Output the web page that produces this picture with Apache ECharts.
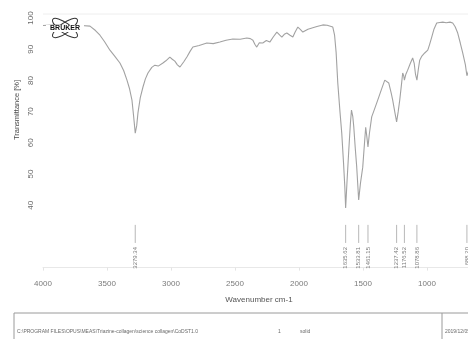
<!DOCTYPE html>
<html>
<head>
<meta charset="utf-8">
<script src="https://cdn.jsdelivr.net/npm/echarts@6/dist/echarts.min.js"></script>
<style>
  html, body { margin: 0; padding: 0; background: #fff; }
  #chart { width: 468px; height: 339px; }
</style>
</head>
<body>
<div id="chart"></div>
<script>
// IR spectrum: wavenumber (cm-1) vs transmittance (%)
const wavenumbers = [4000, 3900, 3800, 3700, 3633, 3590, 3555, 3520, 3477, 3440, 3399, 3370, 3344, 3325, 3305, 3292,
  3279.34, 3268, 3258, 3240, 3219, 3200, 3180, 3150, 3126, 3100, 3063, 3040, 3009, 2990, 2970, 2950, 2930, 2900,
  2876, 2850, 2829, 2780, 2720, 2670, 2618, 2570, 2517, 2460, 2408, 2380, 2360, 2345, 2330, 2310, 2283, 2255, 2228,
  2200, 2173, 2150, 2134, 2115, 2095, 2070, 2048, 2030, 2009, 1990, 1970, 1930, 1892, 1860, 1814, 1780, 1736, 1722,
  1710, 1697, 1680, 1666, 1652, 1642, 1635.62, 1625, 1611, 1598, 1590, 1580, 1572, 1560, 1549, 1540, 1533.81, 1520,
  1502, 1490, 1479, 1470, 1461.15, 1450, 1432, 1410, 1385, 1355, 1330, 1315, 1299, 1280, 1268, 1250, 1237.42, 1225,
  1213, 1200, 1190, 1182, 1176.52, 1165, 1151, 1130, 1112, 1100, 1090, 1078.86, 1068, 1057, 1040, 1018, 994, 980,
  963, 945, 924, 900, 877, 850, 820, 799, 780, 760, 740, 721, 700, 688.20, 676, 660];
const transmittance = [97.6, 97.8, 97.5, 97.6, 97.4, 96.0, 94.5, 92.5, 89.7, 87.8, 85.6, 83.2, 80.1, 77.5, 73.7, 68.5,
  63.1, 65.5, 69.6, 74.5, 77.9, 80.5, 82.4, 84.2, 84.9, 84.6, 85.6, 86.3, 87.5, 86.8, 86.2, 85.0, 84.3, 86.0,
  87.5, 89.4, 90.7, 91.2, 92.0, 91.8, 92.3, 92.9, 93.3, 93.2, 93.6, 93.4, 92.9, 91.6, 90.7, 92.1, 92.0, 92.8, 92.3,
  94.0, 95.5, 94.5, 93.9, 94.8, 95.2, 94.5, 93.9, 95.5, 97.1, 96.4, 95.5, 96.4, 96.9, 97.3, 97.8, 97.7, 97.1, 94.5,
  89.0, 79.2, 70.0, 63.1, 53.5, 45.8, 39.1, 47.5, 57.7, 66.5, 70.5, 68.5, 65.1, 58.0, 52.2, 46.0, 41.7, 47.0,
  52.2, 59.0, 65.0, 62.0, 58.7, 63.0, 68.3, 70.8, 73.7, 77.2, 80.1, 80.3, 79.2, 76.0, 73.7, 69.5, 66.7, 70.0,
  73.7, 78.5, 82.4, 81.5, 80.1, 82.0, 83.3, 85.5, 87.2, 85.5, 82.0, 80.1, 83.5, 86.5, 87.8, 88.8, 89.7, 91.5,
  93.9, 96.5, 98.4, 98.6, 98.7, 98.5, 98.7, 98.4, 97.2, 95.2, 92.0, 88.8, 85.0, 81.5, 83.0, 86.0];

// picked peaks (cm-1)
const peaks = [3279.34, 1635.62, 1533.81, 1461.15, 1237.42, 1176.52, 1078.86, 688.20];

const xTicks = [4000, 3500, 3000, 2500, 2000, 1500, 1000, 500];
const yTicks = [100, 90, 80, 70, 60, 50, 40];

const spectrum = wavenumbers.map((w, i) => [w, transmittance[i]]);

const chart = echarts.init(document.getElementById('chart'), null, { renderer: 'canvas' });

chart.setOption({
  backgroundColor: '#ffffff',
  animation: false,
  grid: { left: 43, top: 14, width: 448, height: 253.6, show: false, containLabel: false, outerBoundsMode: 'none' },
  xAxis: {
    type: 'value', inverse: true, min: 500, max: 4000, interval: 500,
    axisLine: { show: true, lineStyle: { color: '#e8e8e8', width: 1 } },
    axisTick: { show: true, length: 3, lineStyle: { color: '#e4e4e4' } },
    splitLine: { show: false },
    axisLabel: {
      margin: 12, fontSize: 8, color: '#7a7a7a', fontFamily: 'Liberation Sans',
      formatter: v => (xTicks.indexOf(v) >= 0 ? String(v) : '')
    }
  },
  yAxis: {
    type: 'value', min: 20, max: 101.3, interval: 10,
    axisLine: { show: false },
    axisTick: { show: false },
    splitLine: { show: false },
    axisLabel: {
      margin: 8, fontSize: 8, color: '#6a6a6a', rotate: 90, fontFamily: 'Liberation Sans',
      formatter: v => (yTicks.indexOf(Math.round(v * 10) / 10) >= 0 ? String(v) : '')
    }
  },
  series: [
    {
      type: 'line', data: spectrum, showSymbol: false, smooth: false,
      lineStyle: { color: '#a2a2a2', width: 1.1 }, z: 3
    },
    {
      type: 'custom', data: peaks.map(p => [p]), clip: false, z: 4,
      encode: { x: 0 },
      renderItem: function (params, api) {
        const wn = api.value(0);
        const top = api.coord([wn, 33.7]);
        const bot = api.coord([wn, 27.9]);
        const lab = api.coord([wn, 26.6]);
        return {
          type: 'group',
          children: [
            { type: 'line', shape: { x1: top[0], y1: top[1], x2: bot[0], y2: bot[1] },
              style: { stroke: '#b8b8b8', lineWidth: 1 } },
            { type: 'text', x: lab[0], y: lab[1], rotation: Math.PI / 2,
              style: { text: wn.toFixed(2), fontSize: 6, fill: '#7a7a7a', fontFamily: 'Liberation Sans',
                       align: 'right', verticalAlign: 'middle' } }
          ]
        };
      }
    }
  ],
  graphic: [
    // frame top line
    { type: 'line', shape: { x1: 43, y1: 14, x2: 468, y2: 14 }, style: { stroke: '#eeeeee', lineWidth: 1 }, z: 1 },
    // axis titles
    { type: 'text', x: 17, y: 110, rotation: Math.PI / 2,
      style: { text: 'Transmittance [%]', fontSize: 7.5, fill: '#4a4a4a', fontFamily: 'Liberation Sans',
               align: 'center', verticalAlign: 'middle' } },
    { type: 'text', x: 259, y: 300,
      style: { text: 'Wavenumber cm-1', fontSize: 8, fill: '#555555', fontFamily: 'Liberation Sans',
               align: 'center', verticalAlign: 'middle' } },
    // logo
    { type: 'ellipse', x: 65, y: 28, rotation: Math.PI / 5,
      shape: { cx: 0, cy: 0, rx: 15, ry: 5 }, style: { fill: 'none', stroke: '#333', lineWidth: 1 }, z: 10 },
    { type: 'ellipse', x: 65, y: 28, rotation: -Math.PI / 5,
      shape: { cx: 0, cy: 0, rx: 15, ry: 5 }, style: { fill: 'none', stroke: '#333', lineWidth: 1 }, z: 10 },
    { type: 'rect', shape: { x: 46, y: 25, width: 38, height: 7 }, style: { fill: '#fff' }, z: 11 },
    { type: 'text', x: 65, y: 28.5,
      style: { text: 'BRUKER', fontSize: 7, fontWeight: 'bold', fill: '#111', fontFamily: 'Liberation Sans',
               align: 'center', verticalAlign: 'middle' }, z: 12 },
    // info table
    { type: 'rect', shape: { x: 14, y: 313, width: 470, height: 40 },
      style: { fill: 'none', stroke: '#9a9a9a', lineWidth: 1 } },
    { type: 'line', shape: { x1: 442, y1: 313, x2: 442, y2: 339 }, style: { stroke: '#9a9a9a', lineWidth: 1 } },
    { type: 'text', x: 17, y: 332,
      style: { text: 'C:\\PROGRAM FILES\\OPUS\\MEAS\\Triazine-collagen\\science collagen\\CoDST1.0',
               fontSize: 5, fill: '#6a6a6a', fontFamily: 'Liberation Sans', verticalAlign: 'middle' } },
    { type: 'text', x: 278, y: 332,
      style: { text: '1', fontSize: 5, fill: '#6a6a6a', fontFamily: 'Liberation Sans', verticalAlign: 'middle' } },
    { type: 'text', x: 300, y: 332,
      style: { text: 'solid', fontSize: 5, fill: '#6a6a6a', fontFamily: 'Liberation Sans', verticalAlign: 'middle' } },
    { type: 'text', x: 445, y: 332,
      style: { text: '2019/12/05', fontSize: 5, fill: '#6a6a6a', fontFamily: 'Liberation Sans', verticalAlign: 'middle' } }
  ]
});
</script>
</body>
</html>
